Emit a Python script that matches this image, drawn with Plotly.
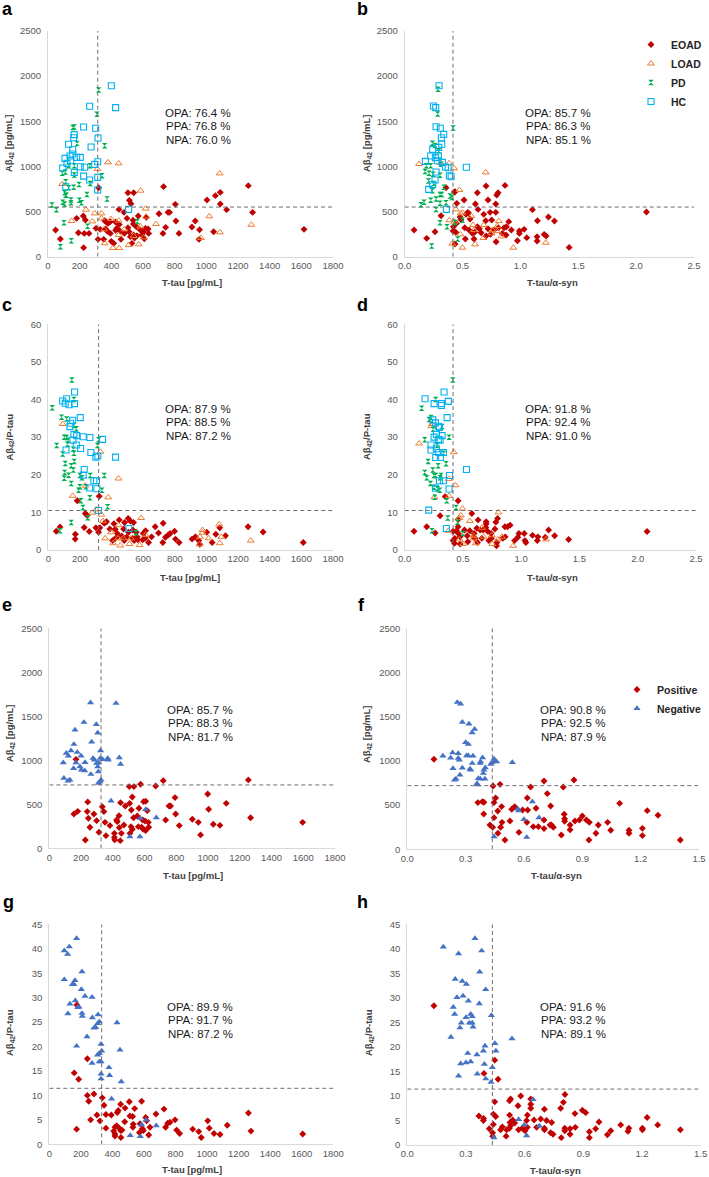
import plotly.graph_objects as go

W, H = 709, 1177
FONT = "Liberation Sans, Arial, sans-serif"

# ---------------- data ----------------
# panel a : T-tau [pg/mL] vs Abeta42 [pg/mL]
a_eoad = [(1265,787),(730,776),(1088,713),(505,709),(541,709),(1057,676),(1004,628),(514,624),(804,580),(524,587),(1088,583),(1128,521),(448,524),(480,491),(1292,491),(758,491),(768,491),(701,476),(320,764),(181,425),(223,451),(236,406),(358,399),(369,384),(379,369),(427,384),(450,358),(537,403),(570,451),(621,436),(539,362),(558,332),(583,295),(615,314),(632,306),(808,395),(930,395),(909,329),(957,299),(743,325),(726,258),(827,258),(954,192),(1046,277),(1617,303),(48,295),(78,196),(192,266),(229,258),(259,258),(303,314),(330,303),(316,192),(352,192),(375,281),(394,258),(434,314),(427,292),(400,170),(415,148),(461,192),(482,258),(512,277),(520,222),(541,240),(562,233),(594,240),(547,207),(608,199),(225,100),(364,306),(455,284),(505,321),(394,388),(499,425),(530,148),(636,258),(604,277)]
a_load = [(379,1045),(446,1034),(312,971),(1084,923),(90,805),(585,731),(240,521),(617,532),(295,480),(337,480),(337,425),(398,417),(149,395),(280,391),(446,399),(619,443),(1019,447),(1284,354),(682,362),(583,336),(482,303),(354,303),(446,240),(541,229),(604,214),(966,207),(1086,270),(358,148),(410,96),(450,96),(573,137),(509,129)]
a_pd = [(320,1846),(309,1577),(156,1430),(166,1437),(183,1255),(358,1230),(130,1008),(166,1008),(265,1008),(90,923),(109,938),(166,905),(341,897),(112,831),(196,801),(267,812),(162,768),(130,764),(105,709),(112,680),(116,680),(246,690),(198,624),(373,639),(211,598),(93,602),(105,583),(145,598),(145,628),(25,572),(53,521),(101,377),(250,336),(564,391),(147,177),(78,111)]
a_hc = [(400,1894),(263,1666),(427,1651),(225,1437),(301,1422),(316,1315),(166,1352),(162,1318),(130,1245),(272,1215),(156,1185),(156,1137),(139,1115),(107,1089),(204,1100),(181,1100),(143,1063),(314,1052),(295,1023),(93,982),(120,1034),(204,997),(232,990),(166,934),(225,893),(314,879),(263,849),(112,775),(314,738),(509,524)]

# panel b : T-tau/alpha-syn vs Abeta42 [pg/mL]
b_eoad = [(0.867,790),(0.703,783),(0.795,683),(0.807,709),(0.628,709),(0.435,720),(0.720,628),(0.513,628),(0.450,591),(0.611,583),(0.787,583),(0.634,524),(1.104,521),(2.089,495),(0.545,491),(0.530,469),(0.553,480),(0.738,491),(0.787,491),(0.683,469),(1.242,440),(0.314,454),(0.478,440),(0.487,410),(0.565,417),(0.700,399),(0.752,406),(1.147,399),(1.294,395),(0.899,388),(0.447,369),(0.421,332),(0.519,321),(0.628,332),(0.645,310),(0.720,310),(0.810,321),(0.859,321),(0.879,332),(0.922,295),(0.991,284),(1.032,303),(0.418,284),(0.441,270),(0.556,295),(0.585,258),(0.605,270),(0.660,266),(0.741,247),(0.703,229),(0.772,295),(0.844,258),(0.876,240),(0.991,258),(1.205,247),(1.222,229),(1.144,222),(1.144,174),(1.055,211),(0.974,177),(0.790,166),(0.599,196),(0.524,196),(0.435,140),(1.421,103),(0.081,295),(0.190,203),(0.262,277),(0.357,764),(0.429,716)]
b_load = [(0.124,1027),(0.383,1034),(0.427,979),(0.700,934),(0.473,739),(0.441,524),(0.499,488),(0.484,480),(0.576,451),(0.386,403),(0.813,395),(0.429,388),(0.591,351),(0.683,351),(0.801,340),(0.599,295),(0.752,258),(0.801,284),(0.481,247),(0.836,225),(0.680,207),(0.608,137),(0.499,100),(0.939,100),(1.219,155),(0.412,144),(0.758,295),(0.311,1038)]
b_pd = [(0.288,1854),(0.285,1581),(0.418,1425),(0.239,1256),(0.262,1233),(0.294,1174),(0.187,1008),(0.225,1008),(0.314,1023),(0.176,945),(0.210,923),(0.245,912),(0.305,901),(0.205,838),(0.251,812),(0.340,768),(0.239,731),(0.305,690),(0.320,690),(0.392,672),(0.271,639),(0.357,598),(0.225,624),(0.167,602),(0.141,576),(0.271,524),(0.305,591),(0.409,657),(0.305,377),(0.366,332),(0.435,380),(0.499,403),(0.233,118),(0.458,196)]
b_hc = [(0.297,1894),(0.248,1669),(0.268,1651),(0.271,1440),(0.308,1422),(0.337,1355),(0.317,1318),(0.320,1245),(0.242,1189),(0.294,1211),(0.225,1115),(0.265,1097),(0.291,1119),(0.179,1056),(0.282,1063),(0.326,1045),(0.375,986),(0.352,993),(0.533,990),(0.271,938),(0.386,897),(0.401,886),(0.262,849),(0.242,798),(0.207,746),(0.360,524)]

# panel c : T-tau [pg/mL] vs Abeta42/P-tau
c_eoad = [(322,14.3),(183,13.1),(234,9.7),(246,9.2),(74,6.1),(50,5.0),(171,4.2),(227,6.0),(170,2.9),(259,4.9),(301,5.9),(318,4.7),(326,5.9),(354,7.1),(368,7.5),(415,7.0),(448,8.0),(482,7.3),(505,8.4),(518,7.7),(539,7.3),(389,5.6),(423,5.5),(476,5.6),(507,4.7),(535,5.3),(556,4.7),(600,4.4),(615,5.1),(676,6.2),(726,7.1),(798,5.0),(770,4.4),(758,4.0),(741,3.4),(697,4.5),(724,2.0),(804,2.9),(827,2.0),(909,2.9),(930,3.5),(951,2.5),(1002,4.7),(1036,2.0),(1084,5.9),(1120,3.8),(1059,4.2),(1263,6.2),(1358,4.8),(1612,2.0),(442,3.7),(419,2.9),(406,2.5),(495,3.4),(480,2.5),(533,3.1),(566,2.7),(596,2.7),(613,3.1),(634,2.0),(958,1.5),(543,2.5),(562,3.5),(653,3.5),(436,4.4),(465,3.7)]
c_load = [(91,33.5),(330,26.1),(444,19.0),(154,14.4),(379,14.0),(234,17.1),(303,10.8),(278,9.9),(335,9.4),(587,8.5),(345,7.7),(444,6.6),(1080,6.8),(975,5.3),(975,4.6),(396,4.7),(360,3.1),(442,3.1),(474,3.1),(522,3.1),(615,4.0),(958,3.5),(1013,3.1),(1095,3.5),(1280,2.5),(410,1.8),(455,1.2),(514,1.6),(577,1.3),(956,1.5),(1084,1.8)]
c_pd = [(149,45.2),(162,40.0),(25,37.8),(84,35.3),(116,34.8),(162,33.1),(177,32.2),(101,30.0),(116,29.9),(124,29.2),(318,29.3),(53,27.8),(122,28.1),(311,27.8),(158,26.8),(91,25.5),(162,25.7),(164,23.5),(107,23.0),(145,22.4),(158,21.3),(103,20.6),(128,19.9),(200,19.8),(354,19.8),(265,19.8),(101,19.1),(213,19.2),(200,16.8),(192,15.9),(238,16.8),(339,15.9),(145,17.7),(263,13.9),(206,13.1),(375,11.5),(219,11.3),(250,8.6),(145,7.3),(74,5.1),(554,4.6)]
c_hc = [(166,42.0),(91,39.6),(116,40.2),(107,39.0),(131,38.6),(166,38.9),(202,35.2),(154,34.5),(141,33.7),(137,32.8),(162,30.7),(179,30.4),(221,30.1),(263,29.9),(343,29.4),(156,29.2),(177,27.9),(204,27.0),(112,26.6),(269,25.9),(313,25.0),(301,24.7),(425,24.7),(227,21.4),(221,19.9),(288,18.4),(305,18.4),(261,16.5),(307,16.3),(318,10.5),(509,5.7)]

# panel d : T-tau/alpha-syn vs Abeta42/P-tau
d_eoad = [(0.458,13.1),(0.347,14.2),(0.576,9.7),(0.304,9.1),(0.080,5.0),(0.189,6.2),(0.261,4.5),(0.797,8.4),(0.782,7.4),(0.458,8.1),(0.458,6.2),(0.630,8.0),(0.699,7.5),(0.699,6.9),(0.905,6.6),(0.883,6.2),(0.860,6.2),(0.774,5.6),(1.235,5.3),(2.080,4.9),(0.513,5.3),(0.559,5.1),(0.619,5.8),(0.648,5.3),(0.711,5.0),(0.742,4.4),(0.980,4.4),(1.026,4.4),(1.097,3.9),(1.143,3.5),(1.287,3.8),(1.407,2.8),(0.943,2.5),(0.971,3.4),(1.032,2.5),(1.040,2.0),(1.138,2.5),(1.206,3.4),(0.842,3.1),(0.862,3.5),(0.791,2.0),(0.788,1.1),(0.722,2.5),(0.662,3.1),(0.596,3.4),(0.536,3.8),(0.476,3.5),(0.430,3.1),(0.415,2.5),(0.427,1.8),(0.476,1.6),(0.542,2.2),(0.625,2.0),(0.602,3.1),(0.415,4.9),(0.444,5.1),(0.461,4.4),(0.673,5.3),(0.696,6.0),(0.596,4.4),(0.745,3.1)]
d_load = [(0.123,28.3),(0.235,33.5),(0.229,32.9),(0.421,26.0),(0.436,17.2),(0.378,18.9),(0.381,14.4),(0.255,14.0),(0.496,11.0),(0.805,10.0),(0.481,9.2),(0.470,8.5),(0.559,7.7),(0.375,5.1),(0.662,5.9),(0.470,2.8),(0.501,1.6),(0.590,3.8),(0.590,3.1),(0.610,1.8),(0.679,3.5),(0.751,1.6),(0.799,2.8),(0.931,1.1),(1.212,2.8),(0.748,3.9),(0.834,3.5)]
d_pd = [(0.413,45.2),(0.266,40.0),(0.146,37.7),(0.209,34.7),(0.226,35.2),(0.321,32.8),(0.244,32.1),(0.381,30.0),(0.172,29.3),(0.278,27.8),(0.335,25.7),(0.201,23.5),(0.355,22.9),(0.287,22.4),(0.241,21.3),(0.172,20.6),(0.252,19.8),(0.266,19.8),(0.312,19.8),(0.304,19.2),(0.189,19.2),(0.221,17.7),(0.252,16.7),(0.301,15.9),(0.281,16.3),(0.258,14.0),(0.361,13.1),(0.441,11.3),(0.370,8.5),(0.235,5.1),(0.453,7.4),(0.499,4.4)]
d_hc = [(0.338,42.0),(0.175,40.2),(0.375,39.5),(0.252,38.9),(0.315,38.9),(0.315,38.4),(0.364,35.2),(0.241,34.6),(0.264,33.8),(0.289,32.9),(0.298,32.6),(0.272,30.7),(0.252,30.0),(0.321,30.4),(0.289,29.4),(0.304,29.2),(0.226,27.9),(0.226,26.6),(0.272,26.9),(0.292,25.9),(0.332,25.9),(0.266,24.6),(0.307,24.6),(0.530,21.4),(0.384,19.8),(0.298,18.4),(0.332,18.4),(0.264,16.4),(0.381,16.2),(0.206,10.6),(0.358,5.7)]

# panel e : T-tau [pg/mL] vs Abeta42 [pg/mL]
e_pos = [(1254,777),(718,769),(575,727),(670,708),(504,701),(533,701),(168,1011),(998,617),(792,576),(523,583),(594,530),(607,534),(242,527),(449,519),(1115,511),(506,511),(754,481),(764,481),(479,481),(334,473),(565,455),(1004,443),(517,436),(617,428),(179,420),(239,417),(344,417),(155,390),(281,390),(439,371),(796,390),(1268,348),(733,322),(901,330),(246,341),(298,314),(351,295),(424,322),(428,303),(531,348),(624,295),(603,311),(588,322),(939,295),(1596,295),(1033,273),(1075,261),(819,258),(256,239),(382,258),(441,235),(470,265),(515,246),(561,246),(523,216),(582,239),(592,216),(607,201),(626,239),(313,182),(357,144),(410,170),(410,125),(412,98),(454,170),(447,87),(508,170),(953,152),(227,95),(554,367)]
e_neg = [(260,1655),(420,1648),(218,1432),(296,1409),(305,1311),(162,1345),(155,1182),(267,1208),(323,1110),(176,1091),(107,1080),(137,1110),(120,1049),(200,1049),(88,973),(168,973),(225,977),(275,1023),(284,1004),(298,966),(309,973),(321,1023),(368,1023),(372,1004),(441,1030),(449,955),(193,928),(202,890),(223,883),(153,909),(305,928),(309,871),(262,841),(92,796),(118,765),(130,777),(309,739),(319,758),(326,777),(389,538),(607,443),(573,341),(674,348),(508,133),(571,133),(336,1011)]

# panel f : T-tau/alpha-syn vs Abeta42 [pg/mL]
f_pos = [(0.857,784),(0.703,773),(0.441,716),(0.477,735),(0.802,705),(0.634,705),(0.720,630),(0.137,1018),(0.454,581),(0.617,581),(1.092,520),(0.363,528),(0.386,539),(0.394,532),(0.446,528),(0.485,483),(0.552,483),(0.737,490),(0.662,464),(0.537,453),(0.465,434),(0.619,445),(0.593,445),(1.234,437),(0.393,400),(0.807,396),(1.289,385),(0.446,358),(0.703,332),(0.487,305),(0.528,320),(0.809,347),(0.809,317),(0.862,320),(0.885,332),(0.900,377),(0.921,332),(0.936,305),(1.030,305),(0.741,275),(0.751,249),(0.734,275),(0.615,305),(0.425,275),(0.439,249),(0.480,249),(0.648,256),(0.674,256),(0.574,192),(0.466,181),(0.502,106),(0.703,234),(0.837,275),(0.837,222),(0.982,275),(1.046,215),(1.140,181),(1.140,215),(1.209,237),(1.209,155),(0.970,181),(0.934,106),(0.792,162),(1.404,106)]
f_neg = [(0.257,1663),(0.274,1644),(0.283,1437),(0.317,1418),(0.346,1358),(0.333,1320),(0.300,1210),(0.314,1188),(0.183,1056),(0.233,1094),(0.262,1086),(0.223,1033),(0.262,1030),(0.267,1011),(0.305,1060),(0.314,1060),(0.338,1056),(0.387,1037),(0.377,992),(0.334,973),(0.374,973),(0.446,1022),(0.451,1000),(0.459,992),(0.435,981),(0.429,962),(0.540,984),(0.235,916),(0.283,920),(0.322,909),(0.326,898),(0.394,898),(0.401,924),(0.391,860),(0.271,841),(0.365,803),(0.375,796),(0.243,784),(0.250,796),(0.399,796),(0.358,743),(0.362,732),(0.643,539),(0.569,456),(0.600,339),(0.677,358),(0.446,143),(0.614,136),(0.573,437)]

# panel g : T-tau [pg/mL] vs Abeta42/P-tau
g_pos = [(175,28.5),(241,17.5),(158,14.6),(186,13.3),(241,10.0),(283,10.3),(250,8.8),(336,9.5),(585,8.8),(507,8.7),(347,8.0),(452,8.2),(480,7.4),(541,7.3),(437,6.9),(431,6.5),(676,6.2),(727,7.2),(1262,6.4),(302,6.0),(359,6.1),(393,6.0),(511,5.8),(528,5.7),(611,5.5),(617,4.8),(262,5.0),(321,4.8),(478,4.6),(797,5.0),(765,4.5),(750,4.3),(1004,4.8),(1128,3.9),(427,3.8),(532,4.1),(575,4.2),(530,3.5),(590,3.2),(638,3.5),(359,3.3),(416,3.5),(444,3.3),(452,2.8),(461,2.9),(408,2.7),(173,3.1),(737,3.5),(807,2.9),(826,2.2),(909,3.1),(947,2.6),(1014,3.3),(1044,2.2),(1082,2.0),(1278,2.7),(1606,2.1),(963,1.4),(416,2.1),(416,1.7),(454,1.4),(571,2.4),(596,2.8),(630,1.9)]
g_neg = [(173,42.1),(127,40.4),(95,39.6),(116,38.9),(207,35.3),(95,33.7),(163,33.5),(146,32.7),(156,32.7),(203,31.7),(226,30.3),(271,30.1),(165,29.4),(131,28.7),(180,28.0),(188,28.1),(118,26.7),(207,26.8),(209,26.2),(309,26.5),(273,25.9),(317,25.1),(306,24.7),(429,24.9),(294,23.9),(283,23.8),(239,22.0),(173,20.1),(328,20.5),(332,19.1),(448,19.3),(317,18.6),(306,18.3),(271,16.6),(317,16.9),(328,16.9),(378,15.7),(328,14.4),(328,13.4),(382,14.1),(456,12.8),(395,9.3),(613,5.0),(585,4.0),(678,3.8),(513,1.8),(577,1.6)]

# panel h : T-tau/alpha-syn vs Abeta42/P-tau
h_pos = [(0.136,28.4),(0.447,17.3),(0.392,14.6),(0.464,13.4),(0.580,10.0),(0.806,10.3),(0.798,8.7),(0.631,9.4),(0.528,9.4),(0.523,9.0),(0.447,8.8),(0.566,8.0),(0.631,8.3),(0.631,7.5),(0.784,7.5),(0.701,7.3),(0.895,7.1),(0.912,6.6),(0.857,6.4),(0.614,6.1),(0.523,6.1),(0.440,6.3),(0.452,5.8),(0.366,5.9),(0.390,5.4),(0.389,5.0),(1.226,5.6),(0.539,5.1),(0.525,4.6),(0.549,4.5),(0.610,5.0),(0.648,5.1),(0.682,5.3),(0.712,5.0),(0.738,4.6),(0.980,4.7),(1.091,4.1),(1.280,4.1),(1.133,3.4),(1.128,2.8),(1.202,3.4),(1.202,3.1),(1.396,3.1),(1.040,2.9),(1.023,2.1),(0.963,3.3),(0.931,2.7),(0.931,1.5),(0.859,3.6),(0.832,3.3),(0.832,2.2),(0.805,3.4),(0.805,2.9),(0.787,1.5),(0.733,2.5),(0.745,2.2),(0.701,3.4),(0.701,3.1),(0.661,3.6),(0.614,3.6),(0.602,2.9),(0.588,3.4),(0.569,3.1),(0.528,3.9),(0.522,3.4),(0.508,3.1),(0.486,3.7),(0.477,3.1),(0.419,3.3),(0.436,2.5),(0.436,1.8),(0.505,1.8),(0.440,4.2)]
h_neg = [(0.346,42.1),(0.184,40.4),(0.380,39.6),(0.262,39.0),(0.370,35.3),(0.245,33.8),(0.281,33.4),(0.302,32.8),(0.401,31.7),(0.254,30.1),(0.285,30.4),(0.312,29.4),(0.368,28.8),(0.235,28.1),(0.242,26.7),(0.324,26.7),(0.332,26.2),(0.430,26.4),(0.300,26.0),(0.276,24.9),(0.317,24.9),(0.332,24.9),(0.336,24.1),(0.269,23.9),(0.223,22.0),(0.535,21.7),(0.448,20.7),(0.397,20.2),(0.389,19.2),(0.453,19.2),(0.309,18.7),(0.356,18.4),(0.300,16.8),(0.324,17.0),(0.273,16.6),(0.394,16.5),(0.435,15.8),(0.358,14.5),(0.262,14.1),(0.401,13.5),(0.428,12.8),(0.643,9.3),(0.569,5.2),(0.598,4.1),(0.675,3.9),(0.443,1.5),(0.610,1.9)]

# cut-off values (x, y) per panel
cutoffs = {"a": (314, 550), "b": (0.417, 550), "c": (318, 10.5), "d": (0.415, 10.5),
           "e": (326, 720), "f": (0.437, 720), "g": (332, 11.45), "h": (0.435, 11.4)}
# agreement statistics (OPA, PPA, NPA) per panel
stats = {"a": ("76.4", "76.8", "76.0"), "b": ("85.7", "86.3", "85.1"),
         "c": ("87.9", "88.5", "87.2"), "d": ("91.8", "92.4", "91.0"),
         "e": ("85.7", "88.3", "81.7"), "f": ("90.8", "92.5", "87.9"),
         "g": ("89.9", "91.7", "87.2"), "h": ("91.6", "93.2", "89.1")}

# ---------------- styling ----------------
STYLE = {
    "EOAD": dict(symbol="diamond", size=5.3, color="#C00000", line=dict(width=0)),
    "LOAD": dict(symbol="triangle-up-open", size=6, color="#ED7D31", line=dict(width=1)),
    "PD": dict(symbol="hourglass", size=5.5, color="#00B050", line=dict(width=0)),
    "HC": dict(symbol="square-open", size=6, color="#00B0F0", line=dict(width=1.1)),
    "Positive": dict(symbol="diamond", size=5.3, color="#C00000", line=dict(width=0)),
    "Negative": dict(symbol="triangle-up", size=6.3, color="#4472C4", line=dict(width=0)),
}

TT = "T-tau [pg/mL]"
TA = "T-tau/α-syn"
YA = "Aβ<sub>42</sub> [pg/mL]"
YP = "Aβ<sub>42</sub>/P-tau"

PANELS = [
    dict(k="a", xpx=(48, 333), ypx=(31, 256.7), xr=(0, 1800), xd=200, xf="", yr=(0, 2500), yd=500,
         xt=TT, yt=YA, ser=[("EOAD", a_eoad), ("LOAD", a_load), ("PD", a_pd), ("HC", a_hc)],
         st=(198, 113), lab=(7, 9), xtp=(192, 282), ytp=(9, 143)),
    dict(k="b", xpx=(404.7, 694), ypx=(31, 256.7), xr=(0, 2.5), xd=0.5, xf=".1f", yr=(0, 2500), yd=500,
         xt=TA, yt=YA, ser=[("EOAD", b_eoad), ("LOAD", b_load), ("PD", b_pd), ("HC", b_hc)],
         st=(558, 113), lab=(362, 9), xtp=(552, 282), ytp=(367, 143)),
    dict(k="c", xpx=(48.3, 333), ypx=(324.3, 550), xr=(0, 1800), xd=200, xf="", yr=(0, 60), yd=10,
         xt=TT, yt=YP, ser=[("EOAD", c_eoad), ("LOAD", c_load), ("PD", c_pd), ("HC", c_hc)],
         st=(198, 409), lab=(7, 305), xtp=(190, 577), ytp=(9.5, 437)),
    dict(k="d", xpx=(404.7, 696), ypx=(324.3, 550), xr=(0, 2.5), xd=0.5, xf=".1f", yr=(0, 60), yd=10,
         xt=TA, yt=YP, ser=[("EOAD", d_eoad), ("LOAD", d_load), ("PD", d_pd), ("HC", d_hc)],
         st=(558, 409), lab=(362, 305), xtp=(552, 577), ytp=(367, 437)),
    dict(k="e", xpx=(49.3, 335), ypx=(628.3, 848.3), xr=(0, 1800), xd=200, xf="", yr=(0, 2500), yd=500,
         xt=TT, yt=YA, ser=[("Positive", e_pos), ("Negative", e_neg)],
         st=(200, 710), lab=(7, 605), xtp=(193, 875), ytp=(10, 733)),
    dict(k="f", xpx=(407.3, 699), ypx=(628.3, 849.3), xr=(0, 1.5), xd=0.3, xf=".1f", yr=(0, 2500), yd=500,
         xt=TA, yt=YA, ser=[("Positive", f_pos), ("Negative", f_neg)],
         st=(573, 710), lab=(361, 605), xtp=(556, 875), ytp=(367, 734)),
    dict(k="g", xpx=(49.3, 333.3), ypx=(924.3, 1144.3), xr=(0, 1800), xd=200, xf="", yr=(0, 45), yd=5,
         xt=TT, yt=YP, ser=[("Positive", g_pos), ("Negative", g_neg)],
         st=(200, 1007), lab=(8, 902), xtp=(192, 1169), ytp=(10, 1033)),
    dict(k="h", xpx=(407.3, 700.7), ypx=(924.3, 1145), xr=(0, 1.5), xd=0.3, xf=".1f", yr=(0, 45), yd=5,
         xt=TA, yt=YP, ser=[("Positive", h_pos), ("Negative", h_neg)],
         st=(573, 1007), lab=(362, 902), xtp=(555, 1170), ytp=(369, 1033)),
]

fig = go.Figure()
layout = {}
annotations = []
shapes = []

def px2x(v):
    return v / W

def px2y(v):
    return 1 - v / H

for i, p in enumerate(PANELS, start=1):
    xa = "xaxis" if i == 1 else f"xaxis{i}"
    ya = "yaxis" if i == 1 else f"yaxis{i}"
    xr_ = "x" if i == 1 else f"x{i}"
    yr_ = "y" if i == 1 else f"y{i}"
    common = dict(showgrid=False, zeroline=False, showline=True, linecolor="#D9D9D9",
                  linewidth=1, ticks="", tickfont=dict(family=FONT, size=9.5, color="#595959"),
                  fixedrange=True, automargin=False)
    layout[xa] = dict(common, domain=[px2x(p["xpx"][0]), px2x(p["xpx"][1])], range=list(p["xr"]),
                      tick0=0, dtick=p["xd"], tickformat=p["xf"], anchor=yr_)
    layout[ya] = dict(common, domain=[px2y(p["ypx"][1]), px2y(p["ypx"][0])], range=list(p["yr"]),
                      tick0=0, dtick=p["yd"], anchor=xr_, ticklabelstandoff=4)

    for name, pts in p["ser"]:
        s = STYLE[name]
        if p["k"] == "b":
            show, leg = True, "legend"
        elif p["k"] == "f":
            show, leg = True, "legend2"
        else:
            show, leg = False, "legend"
        fig.add_trace(go.Scatter(
            x=[q[0] for q in pts], y=[q[1] for q in pts], mode="markers", name=name,
            marker=dict(symbol=s["symbol"], size=s["size"], color=s["color"], line=dict(s["line"], color=s["color"])),
            xaxis=xr_, yaxis=yr_, showlegend=show, legend=leg, cliponaxis=False))

    cx, cy = cutoffs[p["k"]]
    dash = dict(color="#6E6E6E", width=1, dash="4px,3px")
    shapes.append(dict(type="line", xref=xr_, yref=yr_, x0=cx, x1=cx, y0=p["yr"][0], y1=p["yr"][1], line=dash))
    shapes.append(dict(type="line", xref=xr_, yref=yr_, x0=p["xr"][0], x1=p["xr"][1], y0=cy, y1=cy, line=dash))

    o, pp, n = stats[p["k"]]
    for j, txt in enumerate([f"OPA: {o} %", f"PPA: {pp} %", f"NPA: {n} %"]):
        annotations.append(dict(xref="paper", yref="paper", x=px2x(p["st"][0]), y=px2y(p["st"][1] + j * 13.4),
                                text=txt, showarrow=False, xanchor="center", yanchor="middle",
                                font=dict(family=FONT, size=11.5, color="#1a1a1a")))
    annotations.append(dict(xref="paper", yref="paper", x=px2x(p["lab"][0]), y=px2y(p["lab"][1]),
                            text=p["k"], showarrow=False, xanchor="center", yanchor="middle",
                            font=dict(family=FONT, size=18, color="#000000", weight="bold")))
    annotations.append(dict(xref="paper", yref="paper", x=px2x(p["xtp"][0]), y=px2y(p["xtp"][1]),
                            text=p["xt"], showarrow=False, xanchor="center", yanchor="middle",
                            font=dict(family=FONT, size=9.5, color="#404040", weight="bold")))
    annotations.append(dict(xref="paper", yref="paper", x=px2x(p["ytp"][0]), y=px2y(p["ytp"][1]),
                            text=p["yt"], showarrow=False, xanchor="center", yanchor="middle",
                            textangle=-90, font=dict(family=FONT, size=9.5, color="#404040", weight="bold")))

legend_font = dict(family=FONT, size=10.5, color="#262626", weight="bold")
fig.update_layout(
    width=W, height=H, margin=dict(l=0, r=0, t=0, b=0, autoexpand=False),
    paper_bgcolor="white", plot_bgcolor="white",
    font=dict(family=FONT),
    annotations=annotations, shapes=shapes,
    legend=dict(x=px2x(631), y=px2y(30), xanchor="left", yanchor="top", font=legend_font,
                itemwidth=30, bgcolor="rgba(0,0,0,0)", tracegroupgap=0),
    legend2=dict(x=px2x(617), y=px2y(675), xanchor="left", yanchor="top", font=legend_font,
                 itemwidth=30, bgcolor="rgba(0,0,0,0)", tracegroupgap=0),
    **layout,
)

fig.write_html("out.html", config={"displayModeBar": False},
               post_script="document.body.style.margin='0px';document.body.style.padding='0px';"
                           "document.documentElement.style.overflow='hidden';")
